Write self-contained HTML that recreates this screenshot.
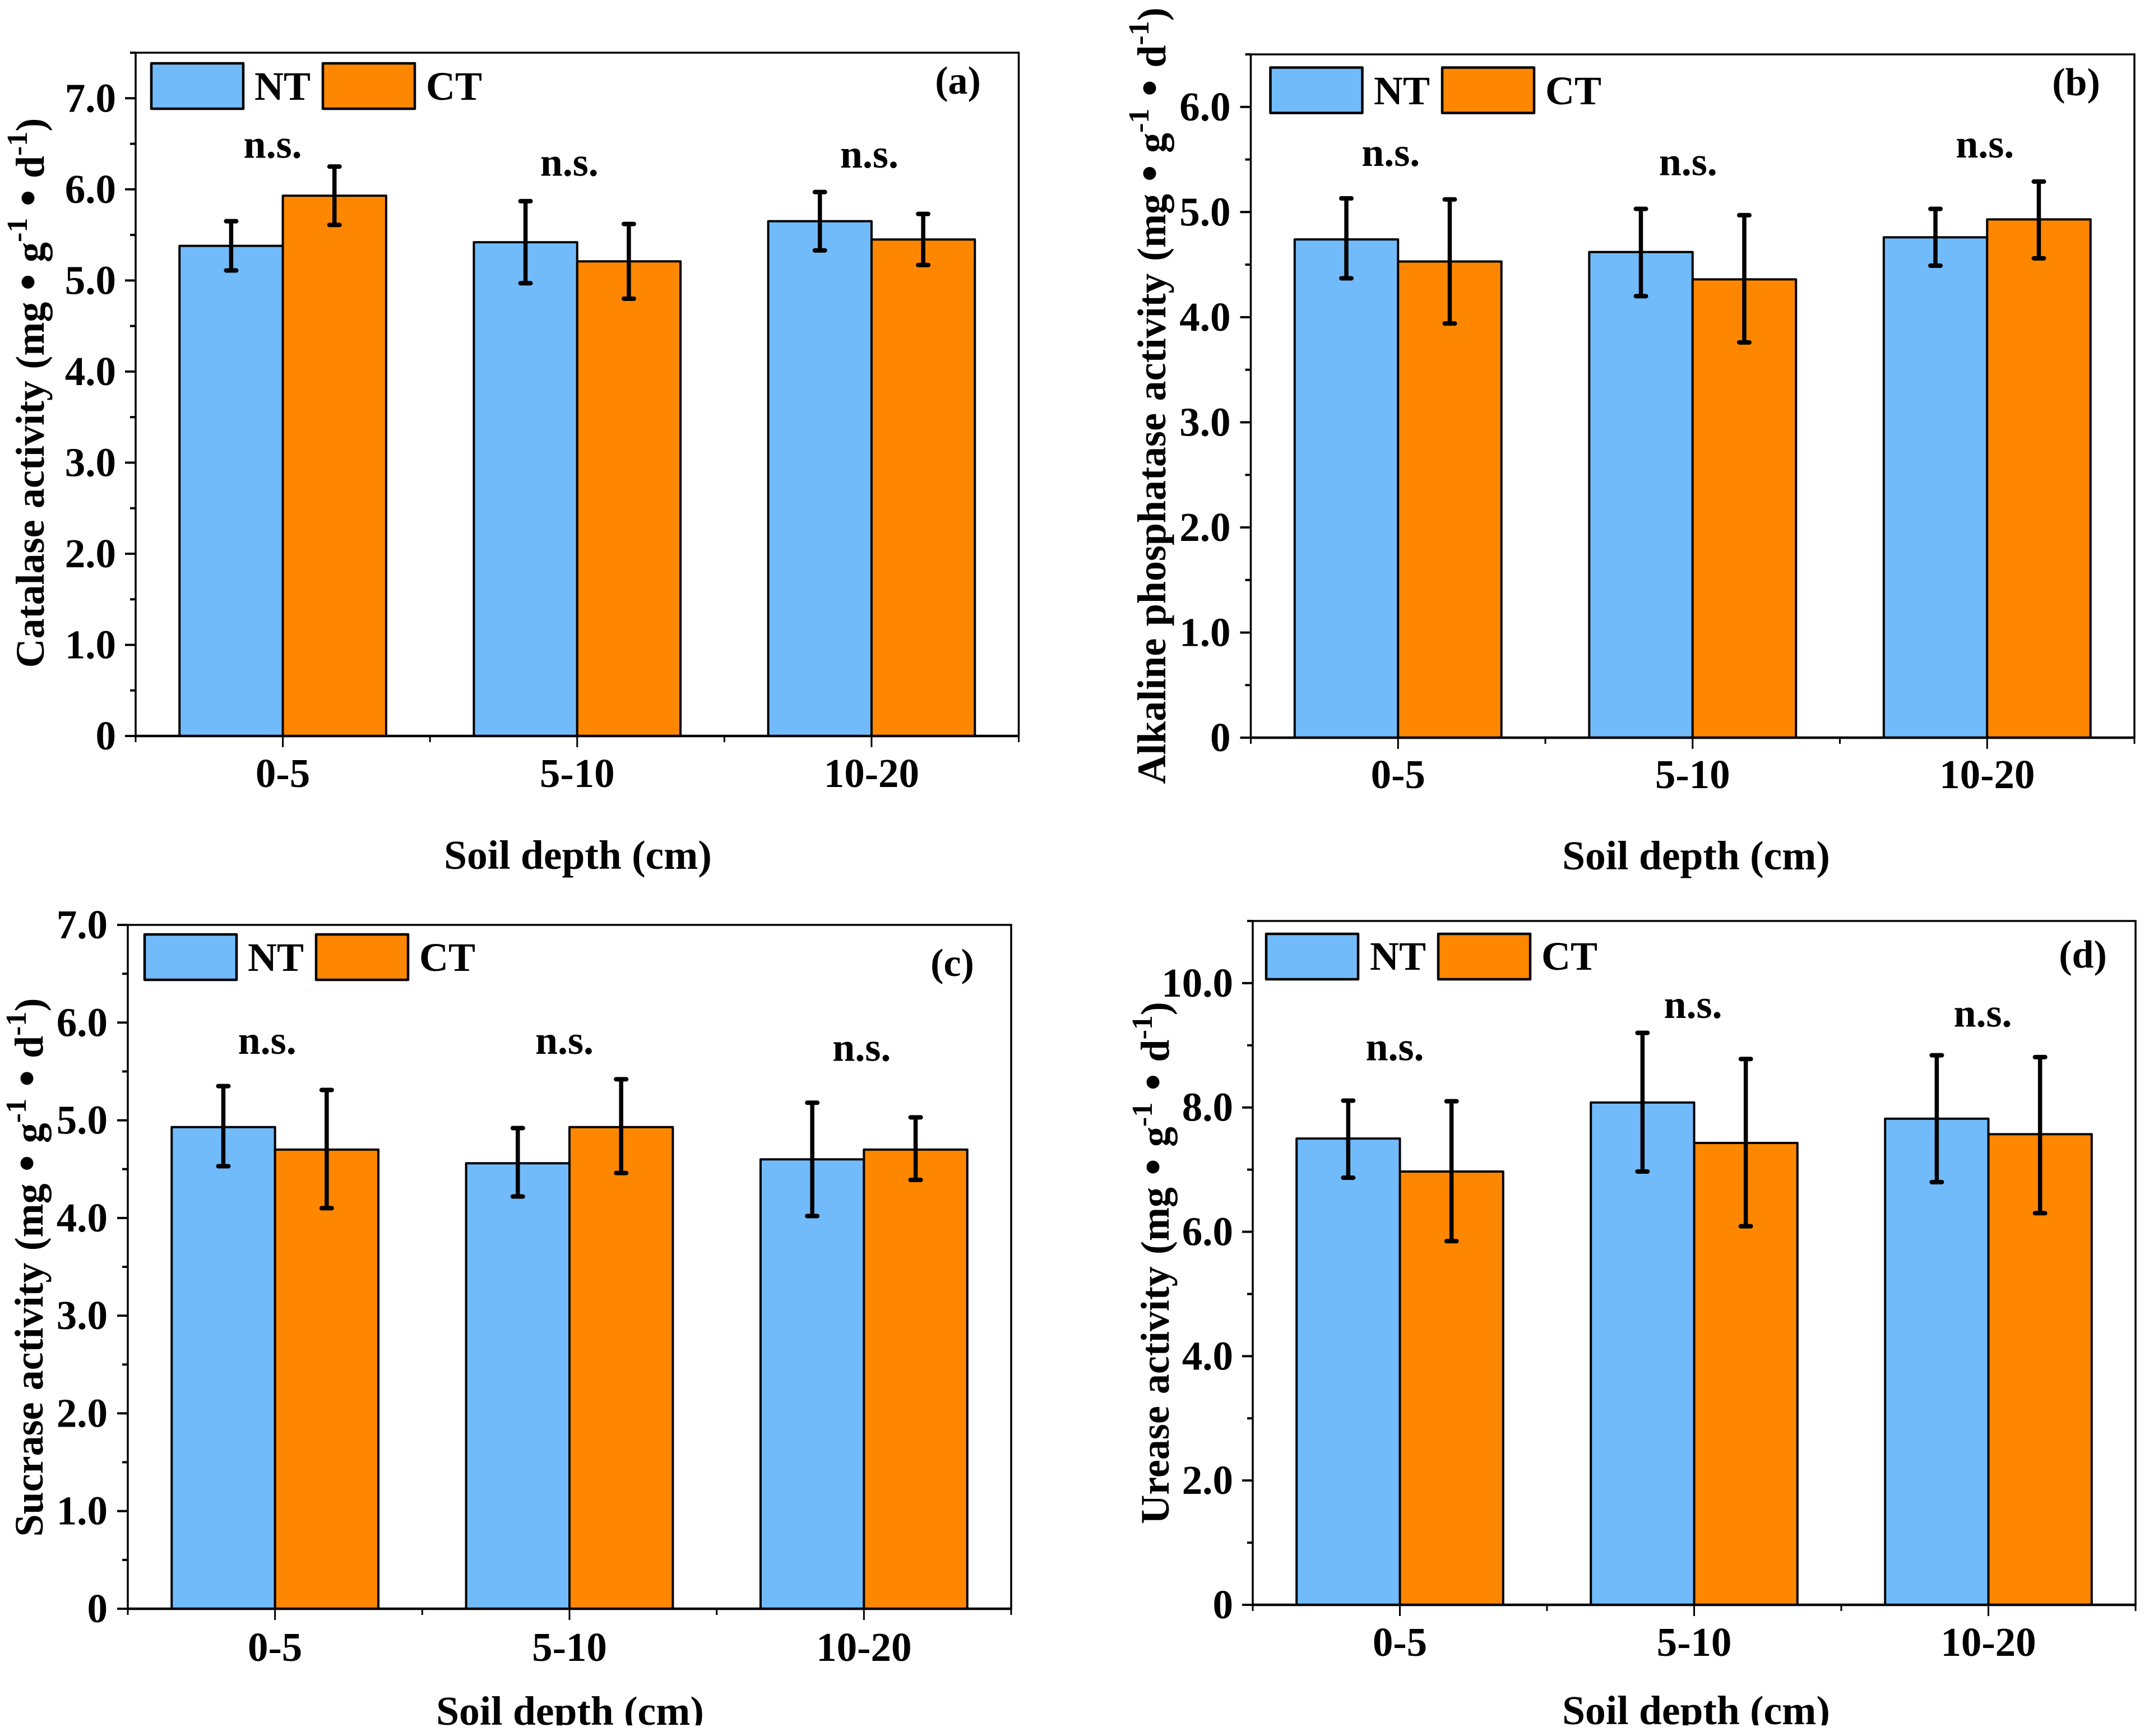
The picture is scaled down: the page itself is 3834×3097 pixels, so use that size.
<!DOCTYPE html>
<html lang="en">
<head>
<meta charset="utf-8">
<title>Soil enzyme activity by depth</title>
<style>
html,body{margin:0;padding:0;background:#fff;}
svg{display:block;}
text{font-family:"Liberation Serif",serif;font-weight:bold;fill:#000;}
</style>
</head>
<body>
<svg id="figure" xmlns="http://www.w3.org/2000/svg" width="3834" height="3097" viewBox="0 0 3834 3097"></svg>
<script>
/* ---------- chart data ---------- */
const categories = ['0-5', '5-10', '10-20'];

const catalaseNT = [5.38, 5.42, 5.65];
const catalaseCT = [5.93, 5.21, 5.45];
const catalaseNTHigh = [5.65, 5.87, 5.97];
const catalaseNTLow = [5.11, 4.97, 5.33];
const catalaseCTHigh = [6.25, 5.62, 5.73];
const catalaseCTLow = [5.61, 4.80, 5.17];

const phosphataseNT = [4.74, 4.62, 4.76];
const phosphataseCT = [4.53, 4.36, 4.93];
const phosphataseNTHigh = [5.13, 5.03, 5.03];
const phosphataseNTLow = [4.37, 4.20, 4.49];
const phosphataseCTHigh = [5.12, 4.97, 5.29];
const phosphataseCTLow = [3.94, 3.76, 4.56];

const sucraseNT = [4.93, 4.56, 4.60];
const sucraseCT = [4.70, 4.93, 4.70];
const sucraseNTHigh = [5.35, 4.92, 5.18];
const sucraseNTLow = [4.53, 4.22, 4.02];
const sucraseCTHigh = [5.31, 5.42, 5.03];
const sucraseCTLow = [4.10, 4.46, 4.39];

const ureaseNT = [7.50, 8.08, 7.82];
const ureaseCT = [6.97, 7.43, 7.57];
const ureaseNTHigh = [8.11, 9.20, 8.84];
const ureaseNTLow = [6.87, 6.97, 6.80];
const ureaseCTHigh = [8.10, 8.78, 8.81];
const ureaseCTLow = [5.85, 6.09, 6.30];

const catalaseTicks = [0, 1, 2, 3, 4, 5, 6, 7];
const catalaseTickLabels = ['0', '1.0', '2.0', '3.0', '4.0', '5.0', '6.0', '7.0'];
const catalaseMinorTicks = [0.5, 1.5, 2.5, 3.5, 4.5, 5.5, 6.5, 7.5];
const phosphataseTicks = [0, 1, 2, 3, 4, 5, 6];
const phosphataseTickLabels = ['0', '1.0', '2.0', '3.0', '4.0', '5.0', '6.0'];
const phosphataseMinorTicks = [0.5, 1.5, 2.5, 3.5, 4.5, 5.5, 6.5];
const sucraseTicks = [0, 1, 2, 3, 4, 5, 6, 7];
const sucraseTickLabels = ['0', '1.0', '2.0', '3.0', '4.0', '5.0', '6.0', '7.0'];
const sucraseMinorTicks = [0.5, 1.5, 2.5, 3.5, 4.5, 5.5, 6.5];
const ureaseTicks = [0, 2, 4, 6, 8, 10];
const ureaseTickLabels = ['0', '2.0', '4.0', '6.0', '8.0', '10.0'];
const ureaseMinorTicks = [1, 3, 5, 7, 9, 11];

/* height of each "n.s." label, in y-axis units */
const catalaseSigLevels = [6.345, 6.148, 6.24];
const phosphataseSigLevels = [5.44, 5.35, 5.52];
const sucraseSigLevels = [5.68, 5.68, 5.61];
const ureaseSigLevels = [8.76, 9.44, 9.30];

const seriesNames = ['NT', 'CT'];
const seriesColors = ['#72BBFB', '#FF8700'];

/* ---------- panel layout ---------- */
const panels = [
  {key:'a', tag:'(a)', enzyme:'Catalase activity ', left:242, right:1817.5, top:94, zero:1313, ymax:7.5,
   nt:catalaseNT, ct:catalaseCT, ntHi:catalaseNTHigh, ntLo:catalaseNTLow, ctHi:catalaseCTHigh, ctLo:catalaseCTLow,
   ticks:catalaseTicks, labels:catalaseTickLabels, minor:catalaseMinorTicks, sig:catalaseSigLevels, sigDx:[-18,-14,-4],
   lg:{x1:270,x2:576,y:113,h:81,w:164,t1:454,t2:760,base:178},
   tagX:1709, tagY:167, titleX:78, titleY:701, titleSpacing:2.45, xTitleX:1033, xTitleY:1550, tickBase:1404, labelGap:35},
  {key:'b', tag:'(b)', enzyme:'Alkaline phosphatase activity ', left:2231.5, right:3808, top:97, zero:1316, ymax:6.5,
   nt:phosphataseNT, ct:phosphataseCT, ntHi:phosphataseNTHigh, ntLo:phosphataseNTLow, ctHi:phosphataseCTHigh, ctLo:phosphataseCTLow,
   ticks:phosphataseTicks, labels:phosphataseTickLabels, minor:phosphataseMinorTicks, sig:phosphataseSigLevels, sigDx:[-13,-8,-4],
   lg:{x1:2266.5,x2:2573,y:120.5,h:81,w:164,t1:2451,t2:2757,base:186},
   tagX:3704, tagY:170, titleX:2079, titleY:706, titleSpacing:3.6, xTitleX:3036, xTitleY:1551, tickBase:1406, labelGap:36},
  {key:'c', tag:'(c)', enzyme:'Sucrase activity ', left:228, right:1804, top:1650, zero:2870, ymax:7,
   nt:sucraseNT, ct:sucraseCT, ntHi:sucraseNTHigh, ntLo:sucraseNTLow, ctHi:sucraseCTHigh, ctLo:sucraseCTLow,
   ticks:sucraseTicks, labels:sucraseTickLabels, minor:sucraseMinorTicks, sig:sucraseSigLevels, sigDx:[-14,-9,-4],
   lg:{x1:258,x2:564,y:1667,h:81,w:164,t1:442,t2:748,base:1732},
   tagX:1699, tagY:1741, titleX:76, titleY:2261, titleSpacing:3.15, xTitleX:1019, xTitleY:3077, tickBase:2963, labelGap:36},
  {key:'d', tag:'(d)', enzyme:'Urease activity ', left:2235, right:3810, top:1643, zero:2863, ymax:11,
   nt:ureaseNT, ct:ureaseCT, ntHi:ureaseNTHigh, ntLo:ureaseNTLow, ctHi:ureaseCTHigh, ctLo:ureaseCTLow,
   ticks:ureaseTicks, labels:ureaseTickLabels, minor:ureaseMinorTicks, sig:ureaseSigLevels, sigDx:[-9,-2,-10],
   lg:{x1:2259,x2:2566,y:1666,h:81,w:164,t1:2444,t2:2750,base:1730},
   tagX:3716, tagY:1726, titleX:2085, titleY:2253, titleSpacing:3.15, xTitleX:3036, xTitleY:3076, tickBase:2954, labelGap:35}
];

/* ---------- drawing ---------- */
const NS = 'http://www.w3.org/2000/svg';
const root = document.getElementById('figure');

function add(parent, tag, props) {
  const el = document.createElementNS(NS, tag);
  for (const k in props) el.setAttribute(k, props[k]);
  parent.appendChild(el);
  return el;
}

function drawPanel(p) {
  const g = add(root, 'g', {});
  
  

  const unit = (p.zero - p.top) / p.ymax;
  const yScale = v => p.zero - v * unit;
  const catWidth = (p.right - p.left) / categories.length;
  const xScale = i => p.left + (i + 0.5) * catWidth;
  const barWidth = catWidth * 0.351;

  /* bars */
  const series = [
    {name:'nt', values:p.nt, hi:p.ntHi, lo:p.ntLo, color:seriesColors[0], dir:-1},
    {name:'ct', values:p.ct, hi:p.ctHi, lo:p.ctLo, color:seriesColors[1], dir:0}
  ];
  series.forEach(s => {
    s.values.forEach((v, i) => {
      const r = add(g, 'rect', {
        x: xScale(i) + s.dir * barWidth, y: yScale(v),
        width: barWidth, height: p.zero - yScale(v),
        fill: s.color, stroke: '#000', 'stroke-width': 4, 'stroke-linejoin': 'round'
      });
      
      
    });
  });

  /* error bars */
  series.forEach(s => {
    s.values.forEach((v, i) => {
      const cx = xScale(i) + (s.dir + 0.5) * barWidth;
      const eb = add(g, 'g', {});
      
      
      add(eb, 'line', {x1:cx, x2:cx, y1:yScale(s.hi[i]), y2:yScale(s.lo[i]), stroke:'#000', 'stroke-width':7.5});
      add(eb, 'line', {x1:cx-9, x2:cx+9, y1:yScale(s.hi[i]), y2:yScale(s.hi[i]), stroke:'#000', 'stroke-width':8, 'stroke-linecap':'round'});
      add(eb, 'line', {x1:cx-9, x2:cx+9, y1:yScale(s.lo[i]), y2:yScale(s.lo[i]), stroke:'#000', 'stroke-width':8, 'stroke-linecap':'round'});
    });
  });

  /* frame */
  const frame = add(g, 'rect', {x:p.left, y:p.top, width:p.right-p.left, height:p.zero-p.top, fill:'none', stroke:'#000', 'stroke-width':3.5});
  
  
  const baseAxis = add(g, 'line', {x1:p.left, x2:p.right, y1:p.zero, y2:p.zero, stroke:'#000', 'stroke-width':4.5});
  
  

  /* y ticks */
  p.ticks.forEach((v, i) => {
    const t = add(g, 'line', {x1:p.left-19, x2:p.left, y1:yScale(v), y2:yScale(v), stroke:'#000', 'stroke-width':4});
    
    
    const l = add(g, 'text', {x:p.left-p.labelGap, y:yScale(v)+24, 'text-anchor':'end', 'font-size':73});
    
    
    l.textContent = p.labels[i];
  });
  p.minor.forEach(v => {
    const t = add(g, 'line', {x1:p.left-10, x2:p.left, y1:yScale(v), y2:yScale(v), stroke:'#000', 'stroke-width':4});
    
    
  });

  /* x ticks */
  categories.forEach((c, i) => {
    const t = add(g, 'line', {x1:xScale(i), x2:xScale(i), y1:p.zero, y2:p.zero+20, stroke:'#000', 'stroke-width':3});
    
    
    const l = add(g, 'text', {x:xScale(i), y:p.tickBase, 'text-anchor':'middle', 'font-size':73});
    
    
    l.textContent = c;
  });
  for (let i = 0; i <= categories.length; i++) {
    const mx = p.left + i * catWidth;
    const t = add(g, 'line', {x1:mx, x2:mx, y1:p.zero, y2:p.zero+11, stroke:'#000', 'stroke-width':3});
    
    
  }

  /* significance labels */
  p.sig.forEach((v, i) => {
    const s = add(g, 'text', {x:xScale(i)+p.sigDx[i], y:yScale(v), 'text-anchor':'middle', 'font-size':72});
    
    
    s.textContent = 'n.s.';
  });

  /* legend */
  const lg = add(g, 'g', {});
  
  
  seriesNames.forEach((name, i) => {
    const sw = add(lg, 'rect', {x:i ? p.lg.x2 : p.lg.x1, y:p.lg.y, width:p.lg.w, height:p.lg.h, fill:seriesColors[i], stroke:'#000', 'stroke-width':4.5, 'stroke-linejoin':'round'});
    
    
    const t = add(lg, 'text', {x:i ? p.lg.t2 : p.lg.t1, y:p.lg.base, 'font-size':72});
    
    
    t.textContent = name;
  });

  /* panel letter */
  const tag = add(g, 'text', {x:p.tagX, y:p.tagY, 'text-anchor':'middle', 'font-size':70});
  
  
  tag.textContent = p.tag;

  /* x title */
  const xt = add(g, 'text', {x:p.xTitleX - (p.key === 'b' || p.key === 'd' ? 10 : 2), y:p.xTitleY, 'text-anchor':'middle', 'font-size':73.5});
  
  
  xt.textContent = 'Soil depth (cm)';

  /* y title */
  const yt = add(g, 'text', {x:p.titleX, y:p.titleY, 'text-anchor':'middle', 'font-size':72,
    transform:'rotate(-90 ' + p.titleX + ' ' + p.titleY + ')', style:'word-spacing:' + p.titleSpacing + 'px;white-space:pre'});
  
  
  const parts = [[p.enzyme + '(mg ', 0, 72], ['\u2022', 0, 85], [' g', 0, 72], ['-1', -30, 52], [' ', 30, 72], ['\u2022', 0, 85], [' d', 0, 72], ['-1', -30, 52], [')', 30, 72]];
  parts.forEach(part => {
    const ts = add(yt, 'tspan', {dy:part[1], 'font-size':part[2]});
    ts.textContent = part[0];
  });
}

panels.forEach(drawPanel);

/* the source image is cropped just under the lower axis titles */
const mask = add(root, 'rect', {x:0, y:3078, width:3834, height:19, fill:'#fff'});


</script>
</body>
</html>
